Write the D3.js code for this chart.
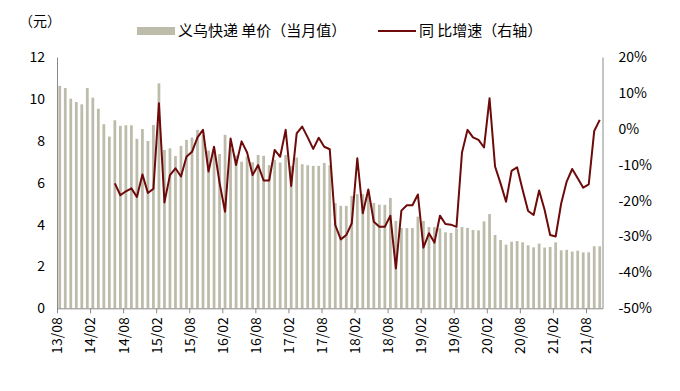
<!DOCTYPE html>
<html>
<head>
<meta charset="utf-8">
<script src="https://cdn.jsdelivr.net/npm/d3@7"></script>
<style>
  html, body { margin: 0; padding: 0; background: #ffffff; }
  svg { display: block; }
  text { font-family: "Noto Sans CJK SC", "Noto Sans", sans-serif; fill: #000; }
</style>
</head>
<body>
<div id="chart"></div>
<script>
// ---- data ----
const months = [
  "13/08","13/09","13/10","13/11","13/12","14/01","14/02","14/03","14/04","14/05",
  "14/06","14/07","14/08","14/09","14/10","14/11","14/12","15/01","15/02","15/03",
  "15/04","15/05","15/06","15/07","15/08","15/09","15/10","15/11","15/12","16/01",
  "16/02","16/03","16/04","16/05","16/06","16/07","16/08","16/09","16/10","16/11",
  "16/12","17/01","17/02","17/03","17/04","17/05","17/06","17/07","17/08","17/09",
  "17/10","17/11","17/12","18/01","18/02","18/03","18/04","18/05","18/06","18/07",
  "18/08","18/09","18/10","18/11","18/12","19/01","19/02","19/03","19/04","19/05",
  "19/06","19/07","19/08","19/09","19/10","19/11","19/12","20/01","20/02","20/03",
  "20/04","20/05","20/06","20/07","20/08","20/09","20/10","20/11","20/12","21/01",
  "21/02","21/03","21/04","21/05","21/06","21/07","21/08","21/09","21/10"
];
const unitPrice = [
  10.62,10.52,10.01,9.85,9.74,10.52,10.06,9.53,8.79,8.20,
  8.98,8.71,8.74,8.74,8.09,8.56,7.99,8.75,10.74,7.56,
  7.64,7.27,7.75,8.04,8.15,8.52,8.30,7.53,7.60,7.37,
  8.28,7.60,7.30,7.00,7.25,6.97,7.32,7.28,6.84,7.09,
  6.96,7.32,6.80,7.20,6.88,6.83,6.80,6.80,6.94,6.83,
  5.02,4.89,4.89,5.37,5.45,5.46,5.60,5.03,4.95,4.94,
  5.27,4.17,3.84,3.83,3.83,4.38,4.17,3.88,3.88,3.82,
  3.63,3.60,3.82,3.88,3.84,3.74,3.72,4.15,4.50,3.50,
  3.26,3.04,3.18,3.21,3.15,3.01,2.91,3.09,2.90,2.93,
  3.15,2.77,2.79,2.71,2.75,2.67,2.67,2.96,2.96
];
const yoyGrowth = [
  null,null,null,null,null,null,null,null,null,null,
  -15.2,-18.5,-17.4,-16.6,-19.0,-12.7,-17.9,-16.7,7.1,-20.5,
  -12.9,-11.0,-13.3,-7.8,-6.4,-2.4,-0.3,-11.9,-5.0,-15.0,
  -23.1,-2.7,-10.1,-3.5,-6.6,-12.9,-10.1,-14.4,-14.4,-5.9,
  -7.8,-0.3,-15.9,-1.3,0.6,-2.4,-5.6,-2.5,-5.0,-5.7,
  -26.8,-30.8,-29.6,-26.3,-8.2,-23.5,-16.9,-25.9,-27.3,-27.3,
  -24.2,-38.9,-22.8,-21.3,-21.3,-18.3,-33.1,-29.1,-31.7,-24.2,
  -26.5,-26.7,-27.3,-6.6,-0.3,-2.4,-3.1,-5.2,8.5,-10.5,
  -15.2,-20.3,-11.7,-10.7,-17.0,-22.9,-24.0,-17.2,-22.6,-29.6,
  -30.0,-20.8,-14.7,-11.2,-13.8,-16.4,-15.5,-0.6,2.5
];
const xTickLabels = ["13/08","14/02","14/08","15/02","15/08","16/02","16/08","17/02","17/08",
  "18/02","18/08","19/02","19/08","20/02","20/08","21/02","21/08"];
const leftTicks = [0,2,4,6,8,10,12];
const rightTicks = [-50,-40,-30,-20,-10,0,10,20];
const seriesNames = ["义乌快递 单价（当月值）", "同 比增速（右轴）"];
const leftUnit = "（元）";

// ---- layout ----
const W = 680, H = 391;
const plot = { left: 57, right: 602.5, top: 57, bottom: 308.3 };
const barColor = "#bdbbaa";
const lineColor = "#6e0a0a";
const axisColor = "#8a8a8a";

const svg = d3.select("#chart").append("svg").attr("width", W).attr("height", H);

const x = d3.scaleBand().domain(months).range([plot.left, plot.right])
  .paddingInner(0.5).paddingOuter(0.25);
const xIdx = d3.scaleLinear().domain([0, months.length]).range([plot.left, plot.right]);
const yL = d3.scaleLinear().domain([0, 12]).range([plot.bottom, plot.top]);
const yR = d3.scaleLinear().domain([-50, 20]).range([plot.bottom, plot.top]);

// bars
svg.append("g").selectAll("rect").data(months).join("rect")
  .attr("x", d => x(d))
  .attr("width", x.bandwidth())
  .attr("y", (d, i) => yL(unitPrice[i]))
  .attr("height", (d, i) => yL(0) - yL(unitPrice[i]))
  .attr("fill", barColor);

// line
const lineData = months.map((m, i) => ({ m, v: yoyGrowth[i] })).filter(d => d.v !== null);
svg.append("path").datum(lineData)
  .attr("fill", "none").attr("stroke", lineColor).attr("stroke-width", 2)
  .attr("stroke-linejoin", "round")
  .attr("d", d3.line().x(d => x(d.m) + x.bandwidth() / 2).y(d => yR(d.v)));

// left axis
const gL = svg.append("g").attr("transform", `translate(${plot.left},0)`)
  .call(d3.axisLeft(yL).tickValues(leftTicks).tickSize(0).tickPadding(12).tickFormat(d3.format("d")));
gL.select(".domain").attr("stroke", axisColor);
gL.selectAll("text").style("font-size", "14px").attr("fill", "#000");

// right axis
const gR = svg.append("g").attr("transform", `translate(${plot.right},0)`)
  .call(d3.axisRight(yR).tickValues(rightTicks).tickSize(0).tickPadding(16).tickFormat(d => d + "%"));
gR.select(".domain").attr("stroke", axisColor);
gR.selectAll("text").style("font-size", "14px").attr("fill", "#000");

// bottom axis
const tickIdx = xTickLabels.map(l => months.indexOf(l));
const gB = svg.append("g").attr("transform", `translate(0,${plot.bottom})`)
  .call(d3.axisBottom(xIdx).tickValues(tickIdx).tickSizeInner(5).tickSizeOuter(0)
    .tickFormat((d, i) => xTickLabels[i]));
gB.select(".domain").attr("stroke", axisColor);
gB.selectAll(".tick line").attr("stroke", axisColor);
gB.selectAll("text")
  .style("font-size", "14px").attr("fill", "#000")
  .attr("text-anchor", "end")
  .attr("transform", "rotate(-90)")
  .attr("x", -9).attr("y", 0).attr("dy", "0.35em");

// unit label
svg.append("text").attr("x", 40).attr("y", 26).attr("text-anchor", "middle")
  .style("font-size", "14px").text(leftUnit);

// legend
const lg = svg.append("g");
lg.append("rect").attr("x", 137).attr("y", 27).attr("width", 38).attr("height", 8).attr("fill", barColor);
lg.append("text").attr("x", 178).attr("y", 31).attr("dy", "0.35em").style("font-size", "15px").text(seriesNames[0]);
lg.append("line").attr("x1", 378).attr("x2", 416).attr("y1", 31).attr("y2", 31)
  .attr("stroke", lineColor).attr("stroke-width", 2);
lg.append("text").attr("x", 419).attr("y", 31).attr("dy", "0.35em").style("font-size", "15px").text(seriesNames[1]);
</script>
</body>
</html>
